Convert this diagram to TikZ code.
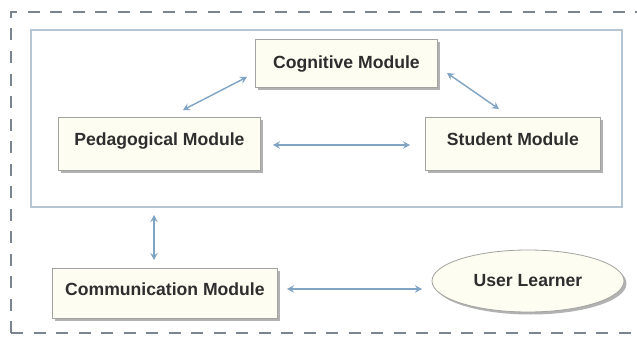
\documentclass[tikz,border=0pt]{standalone}
\usepackage{fontspec}
\setmainfont{Liberation Sans}
\usetikzlibrary{arrows.meta,shadows,shapes.geometric}

\definecolor{boxfill}{HTML}{FDFDF2}
\definecolor{boxline}{HTML}{A3A3A0}
\definecolor{linkblue}{HTML}{80A4C4}
\definecolor{framegray}{HTML}{7B8591}
\definecolor{innerframe}{HTML}{B4C6D4}
\definecolor{labeltext}{HTML}{2E2E2E}

\tikzset{
  labelfont/.style={font=\bfseries\fontsize{17.6}{20}\selectfont, text=labeltext},
  boxshadow/.style={drop shadow={shadow xshift=2.5pt, shadow yshift=-2.5pt, fill=black!55, opacity=0.55}},
  module/.style={draw=boxline, fill=boxfill, line width=0.8pt,
    anchor=north west, inner xsep=0pt, inner ysep=0pt, labelfont, boxshadow},
  learner/.style={ellipse, draw=boxline, fill=boxfill, line width=0.8pt,
    inner sep=0pt, labelfont, boxshadow},
  link/.style={draw=linkblue, line width=1.4pt,
    {Stealth[length=7pt,width=7.5pt,inset=2.5pt]}-{Stealth[length=7pt,width=7.5pt,inset=2.5pt]}},
  frame/.style={framegray, line width=2.4pt, dash pattern=on 12pt off 10.5pt},
}

\begin{document}
\begin{tikzpicture}[x=1pt,y=-1pt]
  \useasboundingbox (0,0) rectangle (637,337);
  \fill[white] (0,0) rectangle (637,337);
  \clip (0,0) rectangle (637,337);

  % outer dashed frame (runs past the right edge)
  \draw[frame] (11,333) -- (11,12) -- (650,12);
  \draw[frame] (11,333) -- (650,333);

  % inner frame around the core modules
  \draw[innerframe, line width=1.1pt] (31,30) rectangle (622,207);

  % modules
  \node[module, minimum width=182pt, text height=29.4pt, text depth=18.6pt] (cog) at (255,39) {Cognitive Module};
  \node[module, minimum width=202pt, text height=28.4pt, text depth=24.6pt] (ped) at (58,117) {Pedagogical Module};
  \node[module, minimum width=175pt, text height=28.4pt, text depth=24.6pt] (stu) at (425,117) {Student Module};
  \node[module, minimum width=225pt, text height=27.4pt, text depth=22.6pt] (com) at (52,268) {Communication Module};
  \node[learner, minimum width=192pt, minimum height=62pt] (usr) at (528,281) {User Learner};

  % free ends of the connectors
  \coordinate (a1) at (183,110);
  \coordinate (a2) at (247,77);
  \coordinate (b1) at (447,73);
  \coordinate (b2) at (499,109);
  \coordinate (c1) at (273,145);
  \coordinate (c2) at (410,145);
  \coordinate (d1) at (154,215);
  \coordinate (d2) at (154,260);
  \coordinate (e1) at (287,289);
  \coordinate (e2) at (422,289);
  \draw[link] (a1) -- (a2);
  \draw[link] (b1) -- (b2);
  \draw[link] (c1) -- (c2);
  \draw[link] (d1) -- (d2);
  \draw[link] (e1) -- (e2);
\end{tikzpicture}
\end{document}
